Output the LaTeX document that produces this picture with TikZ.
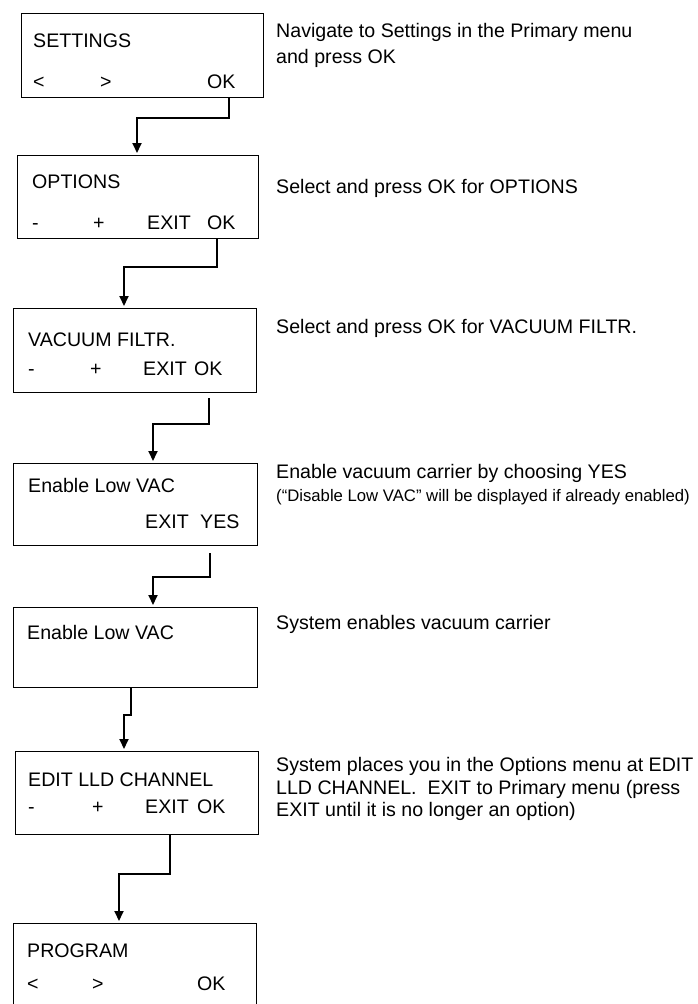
\documentclass[tikz,border=0pt]{standalone}
\usepackage{fontspec}
\setmainfont{Liberation Sans}
\usetikzlibrary{arrows.meta,positioning}
\tikzset{
  screen/.style={
    % The shape:
    rectangle,
    anchor=north west,
    inner sep=0pt,
    % The border:
    draw=black,
    line width=1.2pt},
  key/.style={
    % The text:
    anchor=base west,
    inner sep=0pt,
    font=\fontsize{19.6}{24}\selectfont},
  note/.style={key},
  small note/.style={
    anchor=base west,
    inner sep=0pt,
    font=\fontsize{16.7}{20}\selectfont},
  flow/.style={
    line width=1.8pt,
    -{Triangle[length=10pt,width=9pt]},
    shorten >=2pt}
}

\begin{document}
\begin{tikzpicture}[x=1pt,y=-1pt]
  \useasboundingbox (0,0) rectangle (698,1004);

  % screens
  \node (settings) [screen,minimum width=242pt,minimum height=84pt] at (21,13)  {};
  \node (options)  [screen,minimum width=241pt,minimum height=83pt] at (17,155) {};
  \node (filtr)    [screen,minimum width=243pt,minimum height=84pt] at (13,308) {};
  \node (enable)   [screen,minimum width=244pt,minimum height=82pt] at (13,463) {};
  \node (enabled)  [screen,minimum width=244pt,minimum height=80pt] at (13,607) {};
  \node (lld)      [screen,minimum width=243pt,minimum height=83pt] at (15,751) {};
  \node (program)  [screen,minimum width=243pt,minimum height=90pt] at (13,923) {};

  % screen texts
  \node (title1) [key] at (33,47)  {SETTINGS};
  \node (left1)  [key] at (33,88)  {<};
  \node (right1) [key] at (100,88) {>};
  \node (ok1)    [key] at (207,88) {OK};

  \node (title2) [key] at (32,188)  {OPTIONS};
  \node (minus2) [key] at (32,229)  {-};
  \node (plus2)  [key] at (93,229)  {+};
  \node (exit2)  [key] at (147,229) {EXIT};
  \node (ok2)    [key] at (207,229) {OK};

  \node (title3) [key] at (28,346)  {VACUUM FILTR.};
  \node (minus3) [key] at (28,375)  {-};
  \node (plus3)  [key] at (90,375)  {+};
  \node (exit3)  [key] at (143,375) {EXIT};
  \node (ok3)    [key] at (194,375) {OK};

  \node (title4) [key] at (28,492)  {Enable Low VAC};
  \node (exit4)  [key] at (145,528) {EXIT};
  \node (yes4)   [key] at (200,528) {YES};

  \node (title5) [key] at (27,639)  {Enable Low VAC};

  \node (title6) [key] at (28,786)  {EDIT LLD CHANNEL};
  \node (minus6) [key] at (28,813)  {-};
  \node (plus6)  [key] at (92,813)  {+};
  \node (exit6)  [key] at (145,813) {EXIT};
  \node (ok6)    [key] at (197,813) {OK};

  \node (title7) [key] at (27,957)  {PROGRAM};
  \node (left7)  [key] at (27,990)  {<};
  \node (right7) [key] at (92,990)  {>};
  \node (ok7)    [key] at (197,990) {OK};

  % notes
  \node (note1)  [note] at (276,37)  {Navigate to Settings in the Primary menu};
  \node (note1b) [note] at (276,63)  {and press OK};
  \node (note2)  [note] at (276,193) {Select and press OK for OPTIONS};
  \node (note3)  [note] at (276,333) {Select and press OK for VACUUM FILTR.};
  \node (note4)  [note] at (276,478) {Enable vacuum carrier by choosing YES};
  \node (note4b) [small note] at (276,501) {(“Disable Low VAC” will be displayed if already enabled)};
  \node (note5)  [note] at (276,629) {System enables vacuum carrier};
  \node (note6)  [note] at (276,771) {System places you in the Options menu at EDIT};
  \node (note6b) [note] at (276,794) {LLD CHANNEL.\ \ EXIT to Primary menu (press};
  \node (note6c) [note] at (276,816) {EXIT until it is no longer an option)};

  % connectors
  \draw[flow] ([xshift=208pt]settings.south west) -- ++(0,20) -| ([xshift=120pt]options.north west);
  \draw[flow] ([xshift=200pt]options.south west) -- ++(0,28) -| ([xshift=111pt]filtr.north west);
  \draw[flow] ([xshift=196pt,yshift=-5pt]filtr.south west) -- ++(0,26) -| ([xshift=140pt]enable.north west);
  \draw[flow] ([xshift=197pt,yshift=-7pt]enable.south west) -- ++(0,24) -| ([xshift=140pt]enabled.north west);
  \draw[flow] ([xshift=118pt]enabled.south west) -- ++(0,27) -| ([xshift=109pt]lld.north west);
  \draw[flow] ([xshift=155pt]lld.south west) -- ++(0,39) -| ([xshift=106pt]program.north west);
\end{tikzpicture}
\end{document}
